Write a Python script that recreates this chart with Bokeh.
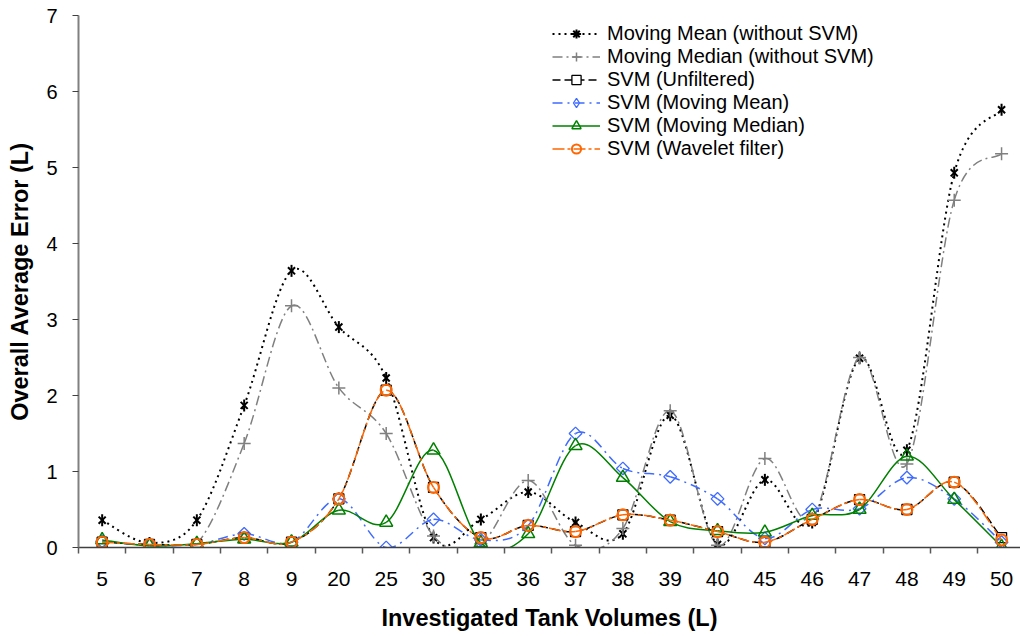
import numpy as np
from bokeh.plotting import figure
from bokeh.models import FixedTicker, Legend, LegendItem, Range1d
from bokeh.embed import file_html
from bokeh.resources import INLINE

categories = ["5", "6", "7", "8", "9", "20", "25", "30", "35", "36",
              "37", "38", "39", "40", "45", "46", "47", "48", "49", "50"]

moving_mean = [0.36, 0.06, 0.36, 1.87, 3.64, 2.90, 2.23, 0.13, 0.37, 0.73,
               0.33, 0.18, 1.74, 0.04, 0.89, 0.33, 2.49, 1.28, 4.93, 5.76]
moving_median = [0.08, 0.03, 0.05, 1.37, 3.18, 2.10, 1.50, 0.15, 0.05, 0.88,
                 0.03, 0.25, 1.80, 0.03, 1.17, 0.38, 2.50, 1.10, 4.57, 5.18]
svm_unfiltered = [0.07, 0.04, 0.04, 0.13, 0.07, 0.64, 2.07, 0.79, 0.13, 0.29,
                  0.21, 0.43, 0.36, 0.21, 0.07, 0.37, 0.63, 0.50, 0.86, 0.13]
svm_moving_mean = [0.08, 0.03, 0.04, 0.18, 0.07, 0.64, 0.00, 0.37, 0.10, 0.29,
                   1.50, 1.04, 0.93, 0.64, 0.12, 0.50, 0.51, 0.92, 0.64, 0.07]
svm_moving_median = [0.10, 0.02, 0.05, 0.11, 0.07, 0.49, 0.33, 1.28, 0.06, 0.18,
                     1.34, 0.92, 0.34, 0.22, 0.20, 0.42, 0.50, 1.20, 0.63, 0.01]
svm_wavelet = [0.07, 0.04, 0.04, 0.13, 0.07, 0.64, 2.07, 0.79, 0.13, 0.29,
               0.21, 0.43, 0.36, 0.21, 0.07, 0.37, 0.63, 0.50, 0.86, 0.10]

series_names = ["Moving Mean (without SVM)", "Moving Median (without SVM)",
                "SVM (Unfiltered)", "SVM (Moving Mean)",
                "SVM (Moving Median)", "SVM (Wavelet filter)"]

FONT = "Liberation Sans"

xs = list(range(len(categories)))

p = figure(width=1020, height=636, output_backend="svg", toolbar_location=None,
           x_range=Range1d(-0.5, 19.4), y_range=Range1d(0, 7),
           min_border_left=78, min_border_right=0, min_border_top=15,
           min_border_bottom=89)
p.outline_line_color = None
p.grid.visible = False
p.background_fill_color = "white"
p.border_fill_color = "white"

# x axis
p.xaxis.ticker = FixedTicker(ticks=xs, minor_ticks=[i - 0.5 for i in range(21)])
p.xaxis.major_label_overrides = {i: c for i, c in enumerate(categories)}
p.xaxis.major_tick_out = 0
p.xaxis.major_tick_in = 0
p.xaxis.minor_tick_out = 6
p.xaxis.minor_tick_in = 0
p.xaxis.minor_tick_line_color = "#595959"
p.xaxis.minor_tick_line_width = 1.5
p.xaxis.axis_line_color = "#404040"
p.xaxis.axis_line_width = 1.5
p.xaxis.major_label_text_font = FONT
p.xaxis.major_label_text_font_size = "21px"
p.xaxis.major_label_text_color = "black"
p.xaxis.major_label_standoff = 18
p.xaxis.axis_label = "Investigated Tank Volumes (L)"
p.xaxis.axis_label_text_font = FONT
p.xaxis.axis_label_text_font_style = "bold"
p.xaxis.axis_label_text_font_size = "23.5px"
p.xaxis.axis_label_text_color = "black"
p.xaxis.axis_label_standoff = 16

# y axis
p.yaxis.ticker = FixedTicker(ticks=list(range(8)))
p.yaxis.major_tick_out = 6
p.yaxis.major_tick_in = 0
p.yaxis.minor_tick_out = 0
p.yaxis.minor_tick_in = 0
p.yaxis.major_tick_line_color = "#404040"
p.yaxis.axis_line_color = "#808080"
p.yaxis.axis_line_width = 2
p.yaxis.major_label_text_font = FONT
p.yaxis.major_label_text_font_size = "20px"
p.yaxis.major_label_text_color = "black"
p.yaxis.major_label_standoff = 15
p.yaxis.axis_label = "Overall Average Error (L)"
p.yaxis.axis_label_text_font = FONT
p.yaxis.axis_label_text_font_style = "bold"
p.yaxis.axis_label_text_font_size = "23.5px"
p.yaxis.axis_label_text_color = "black"
p.yaxis.axis_label_standoff = 10


def smooth_segments(x, y):
    x = np.asarray(x, dtype=float)
    y = np.asarray(y, dtype=float)
    n = len(x)
    d = dict(x0=[], y0=[], x1=[], y1=[], cx0=[], cy0=[], cx1=[], cy1=[])
    for i in range(n - 1):
        ip = max(i - 1, 0)
        inn = min(i + 2, n - 1)
        d["x0"].append(x[i]); d["y0"].append(y[i])
        d["x1"].append(x[i + 1]); d["y1"].append(y[i + 1])
        d["cx0"].append(x[i] + (x[i + 1] - x[ip]) / 6.0)
        d["cy0"].append(y[i] + (y[i + 1] - y[ip]) / 6.0)
        d["cx1"].append(x[i + 1] - (x[inn] - x[i]) / 6.0)
        d["cy1"].append(y[i + 1] - (y[inn] - y[i]) / 6.0)
    return d


# each marker is a list of (marker, size, angle) parts drawn on top of each other;
# legend_parts are the matching (unrotated) symbols shown in the legend
styles = [
    dict(data=moving_mean, color="black", width=2, dash="2 4",
         parts=[("x", 10, 0.0), ("dash", 12, np.pi / 2)],
         legend_parts=[("asterisk", 11)],
         mcolor="black", fill=None, mwidth=2),
    dict(data=moving_median, color="#808080", width=1.5, dash="10 4 2 4",
         parts=[("cross", 13, 0.0)], legend_parts=[("cross", 13)],
         mcolor="#808080", fill=None, mwidth=1.5),
    dict(data=svm_unfiltered, color="black", width=1.5, dash="8 4",
         parts=[("square", 10, 0.0)], legend_parts=[("square", 10)],
         mcolor="black", fill="white", mwidth=1.3),
    dict(data=svm_moving_mean, color="#3F6BFF", width=1.5, dash="10 5 2 5",
         parts=[("square", 9, np.pi / 4)], legend_parts=[("diamond", 14)],
         mcolor="#3F6BFF", fill=None, mwidth=1.3),
    dict(data=svm_moving_median, color="#008000", width=1.5, dash="solid",
         parts=[("triangle", 13, 0.0)], legend_parts=[("triangle", 13)],
         mcolor="#008000", fill=None, mwidth=1.5),
    dict(data=svm_wavelet, color="#FF6600", width=1.5, dash="12 3 3 3",
         parts=[("circle", 11, 0.0)], legend_parts=[("circle", 11)],
         mcolor="#FF6600", fill=None, mwidth=2),
]

# off-frame sample positions used only so the legend can show each style
legend_x = [-5, -4]
legend_y = [-5, -5]

items = []
for name, st in zip(series_names, styles):
    seg = smooth_segments(xs, st["data"])
    p.bezier(x0=seg["x0"], y0=seg["y0"], x1=seg["x1"], y1=seg["y1"],
             cx0=seg["cx0"], cy0=seg["cy0"], cx1=seg["cx1"], cy1=seg["cy1"],
             line_color=st["color"], line_width=st["width"], line_dash=st["dash"])
    fill_kw = {"fill_alpha": 0} if st["fill"] is None else {"fill_color": st["fill"]}
    for marker, size, angle in st["parts"]:
        p.scatter(x=xs, y=st["data"], marker=marker, size=size, angle=angle,
                  line_color=st["mcolor"], line_width=st["mwidth"], **fill_kw)
    rends = [p.line(x=legend_x, y=legend_y, line_color=st["color"],
                    line_width=st["width"], line_dash=st["dash"])]
    for marker, size in st["legend_parts"]:
        rends.append(p.scatter(x=legend_x, y=legend_y, marker=marker, size=size,
                               line_color=st["mcolor"], line_width=st["mwidth"],
                               **fill_kw))
    items.append(LegendItem(label=name, renderers=rends))

legend = Legend(items=items, location=(474, 387), padding=0, margin=0,
                spacing=0, label_height=23, glyph_height=23, glyph_width=48,
                label_standoff=7, label_text_font=FONT,
                label_text_font_size="20px", label_text_color="black",
                border_line_alpha=0, background_fill_alpha=0)
p.add_layout(legend, "center")

open("out.html", "w").write(file_html(p, INLINE))
